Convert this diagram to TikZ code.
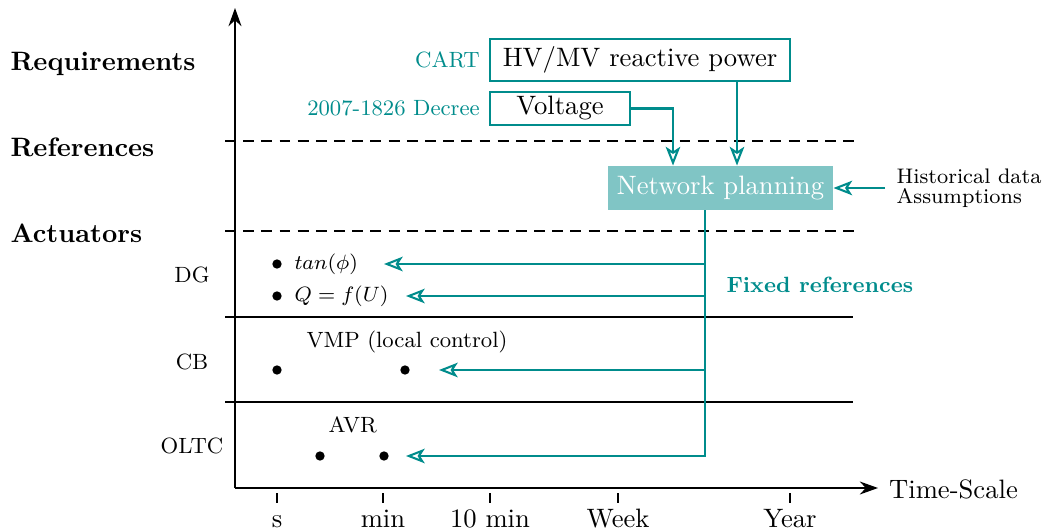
\documentclass[tikz,border=0pt]{standalone}
\usetikzlibrary{arrows.meta}
\definecolor{tealc}{RGB}{0,140,140}
\newcommand{\smf}{\fontsize{8.5}{10}\selectfont}
\newcommand{\nmf}{\fontsize{10.25}{12}\selectfont}
\begin{document}
\begin{tikzpicture}[x=0.385pt,y=-0.385pt,
  every node/.style={font=\nmf},
  axis/.style={line width=0.6pt,-{Stealth[length=7pt,width=5pt]}},
  sep/.style={line width=0.45pt},
  dsep/.style={line width=0.8pt,dash pattern=on 4.2pt off 2.8pt},
  tick/.style={line width=0.45pt},
  ticklab/.style={anchor=base,inner sep=0pt},
  cat/.style={anchor=base west,inner sep=0pt,font=\nmf\bfseries},
  act/.style={font=\smf},
  dot/.style={circle,fill=black,inner sep=0pt,minimum size=3.6pt},
  tlab/.style={font=\smf,text=tealc,anchor=east},
  reqbox/.style={draw=tealc,line width=0.8pt,inner sep=0pt},
  tline/.style={draw=tealc,line width=0.8pt},
  tarrow/.style={tline,-{Stealth[open,length=7.2pt,width=5.6pt,inset=1.8pt]}},
  ctl/.style={font=\smf,anchor=west,inner sep=0pt}]
\useasboundingbox (0,0) rectangle (1049,532);
% axes
\coordinate (O) at (235,488);
\coordinate (ytop) at (235,8);
\coordinate (xend) at (878,488);
\draw[axis] (O) -- (ytop);
\draw[axis] (O) -- (xend);
\node[anchor=west] (tscale) at (880,489) {Time-Scale};
% ticks
\foreach \xx/\nm/\lab in {277/ts/s,383/tmin/min,490/tten/10 min,618/tweek/Week,790/tyear/Year}{
  \coordinate (\nm a) at (\xx,493);
  \coordinate (\nm b) at (\xx,503);
  \draw[tick] (\nm a) -- (\nm b);
  \node[ticklab] (\nm l) at (\xx,527) {\lab};
}
% separators
\coordinate (d1a) at (225,141); \coordinate (d1b) at (855,141);
\coordinate (d2a) at (225,231); \coordinate (d2b) at (855,231);
\draw[dsep] (d1a) -- (d1b);
\draw[dsep] (d2a) -- (d2b);
\coordinate (s1a) at (225,317); \coordinate (s1b) at (853,317);
\coordinate (s2a) at (225,402); \coordinate (s2b) at (853,402);
\draw[sep] (s1a) -- (s1b);
\draw[sep] (s2a) -- (s2b);
% category labels
\node[cat] (req) at (10,71) {Requirements};
\node[cat] (ref) at (10,157) {References};
\node[cat] (actu) at (10,243) {Actuators};
\node[act] (dg) at (192,275) {DG};
\node[act] (cb) at (192,362) {CB};
\node[act] (oltc) at (192,446) {OLTC};
% DG
\node[dot] (b1) at (277,264) {};
\node[ctl] (tanp) at (294,264) {$tan(\phi)$};
\node[dot] (b2) at (277,296) {};
\node[ctl] (qfu) at (294,296) {$Q=f(U)$};
% CB
\node[ctl] (vmp) at (306,342) {VMP (local control)};
\node[dot] (b3) at (277,370) {};
\node[dot] (b4) at (405,370) {};
% OLTC
\node[ctl] (avr) at (328,425) {AVR};
\node[dot] (b5) at (320,456) {};
\node[dot] (b6) at (384,456) {};
% requirement boxes
\node[reqbox,minimum width=115.5pt,minimum height=16.2pt] (hv) at (640,60) {HV/MV reactive power};
\node[reqbox,minimum width=53.9pt,minimum height=12.7pt] (volt) at (560,108.5) {Voltage};
\node[tlab] (cart) at (hv.west) {CART};
\node[tlab] (decree) at (volt.west) {2007-1826 Decree};
% network planning
\node[fill=tealc!50,text=white,minimum width=86.6pt,minimum height=16.9pt,inner sep=0pt] (np) at (720.5,188) {Network planning};
\node[anchor=west,align=left,inner xsep=4.3pt,inner ysep=0pt,font=\fontsize{8.1}{7.8}\selectfont] (hist) at (885,188) {Historical data\\Assumptions};
\node[anchor=west,font=\smf\bfseries,text=tealc,inner sep=0pt] (fixed) at (726,285) {Fixed references};
% connectors
\coordinate (vx) at (673,0);
\coordinate (hx) at (737,0);
\coordinate (trunk) at (705,0);
\draw[tarrow] (volt.east) -| (np.north -| vx);
\draw[tarrow] (hv.south -| hx) -- (np.north -| hx);
\draw[tarrow] (hist.west) -- (np.east);
\coordinate (a1) at (384,264);
\coordinate (a2) at (406,296);
\coordinate (a3) at (439,370);
\coordinate (a4) at (406,456);
\draw[tarrow] (np.south -| trunk) |- (a4);
\draw[tarrow] (a1 -| trunk) -- (a1);
\draw[tarrow] (a2 -| trunk) -- (a2);
\draw[tarrow] (a3 -| trunk) -- (a3);
\end{tikzpicture}
\end{document}
